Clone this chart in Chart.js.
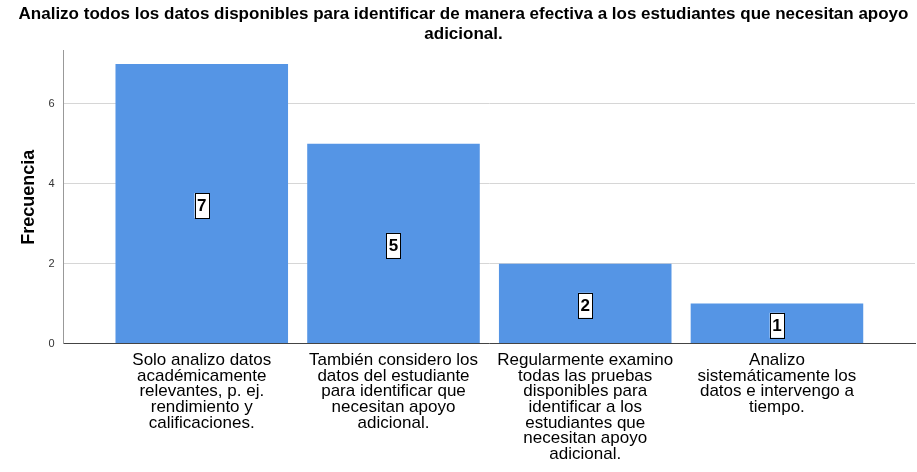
<!DOCTYPE html>
<html>
<head>
<meta charset="utf-8">
<script src="https://cdn.jsdelivr.net/npm/chart.js@4/dist/chart.umd.min.js"></script>
<style>
  html, body { margin: 0; padding: 0; background: #fff; }
  #wrap { position: relative; width: 917px; height: 472px; }
</style>
</head>
<body>
<div id="wrap"><canvas id="myChart"></canvas></div>
<script>
const titulo = ['Analizo todos los datos disponibles para identificar de manera efectiva a los estudiantes que necesitan apoyo', 'adicional.'];
const categorias = [
  ['Solo analizo datos', 'académicamente', 'relevantes, p. ej.', 'rendimiento y', 'calificaciones.'],
  ['También considero los', 'datos del estudiante', 'para identificar que', 'necesitan apoyo', 'adicional.'],
  ['Regularmente examino', 'todas las pruebas', 'disponibles para', 'identificar a los', 'estudiantes que', 'necesitan apoyo', 'adicional.'],
  ['Analizo', 'sistemáticamente los', 'datos e intervengo a', 'tiempo.']
];
const frecuencias = [7, 5, 2, 1];
const yTicks = [0, 2, 4, 6];

const FONT = "'Liberation Sans', Arial, sans-serif";

// etiquetas con recuadro blanco en el centro de cada barra
const boxLabels = {
  id: 'boxLabels',
  afterDatasetsDraw(chart) {
    const ctx = chart.ctx;
    const meta = chart.getDatasetMeta(0);
    ctx.save();
    ctx.font = 'bold 17px ' + FONT;
    ctx.textAlign = 'center';
    ctx.textBaseline = 'middle';
    meta.data.forEach((bar, i) => {
      const txt = String(frecuencias[i]);
      const cy = (bar.y + bar.base) / 2 + 2;
      const w = ctx.measureText(txt).width + 5;
      const h = 25;
      ctx.fillStyle = '#fff';
      ctx.fillRect(bar.x - w / 2, cy - h / 2, w, h);
      ctx.strokeStyle = '#000';
      ctx.lineWidth = 1;
      ctx.strokeRect(Math.round(bar.x - w / 2) + 0.5, Math.round(cy - h / 2) + 0.5, Math.round(w), h);
      ctx.fillStyle = '#000';
      ctx.fillText(txt, bar.x, cy + 1);
    });
    ctx.restore();
  }
};

const ctx = document.getElementById('myChart').getContext('2d');
new Chart(ctx, {
  type: 'bar',
  data: {
    datasets: [{
      data: frecuencias.map((v, i) => ({ x: i, y: v })),
      backgroundColor: '#5595e5',
      borderWidth: 0,
      barPercentage: 0.9,
      categoryPercentage: 1
    }]
  },
  options: {
    responsive: true,
    maintainAspectRatio: false,
    animation: false,
    layout: { padding: { left: 12, right: 2, top: 0, bottom: 9 } },
    plugins: {
      legend: { display: false },
      tooltip: { enabled: false },
      title: {
        display: true,
        text: titulo,
        color: '#000',
        font: { family: FONT, size: 17, weight: 'bold', lineHeight: 1.2 },
        padding: { top: 4, bottom: 6 }
      }
    },
    scales: {
      x: {
        type: 'linear',
        offset: false,
        min: -0.72,
        max: 3.72,
        afterBuildTicks: (scale) => { scale.ticks = categorias.map((c, i) => ({ value: i })); },
        grid: { display: false },
        border: { display: true, color: '#444', width: 1 },
        ticks: {
          autoSkip: false,
          maxRotation: 0,
          minRotation: 0,
          padding: 1,
          color: '#000',
          font: { family: FONT, size: 17, lineHeight: 0.92 },
          callback: (v) => categorias[v]
        }
      },
      y: {
        min: 0,
        max: 7.33,
        afterBuildTicks: (scale) => { scale.ticks = yTicks.map(v => ({ value: v })); },
        grid: { color: '#d6d6d6', drawTicks: false },
        border: { display: true, color: '#999', width: 1 },
        ticks: {
          padding: 9,
          color: '#333',
          font: { family: FONT, size: 11 }
        },
        title: {
          display: true,
          text: 'Frecuencia',
          color: '#000',
          font: { family: FONT, size: 18, weight: 'bold' },
          padding: { top: 6, bottom: 0 }
        }
      }
    }
  },
  plugins: [boxLabels]
});
</script>
</body>
</html>
